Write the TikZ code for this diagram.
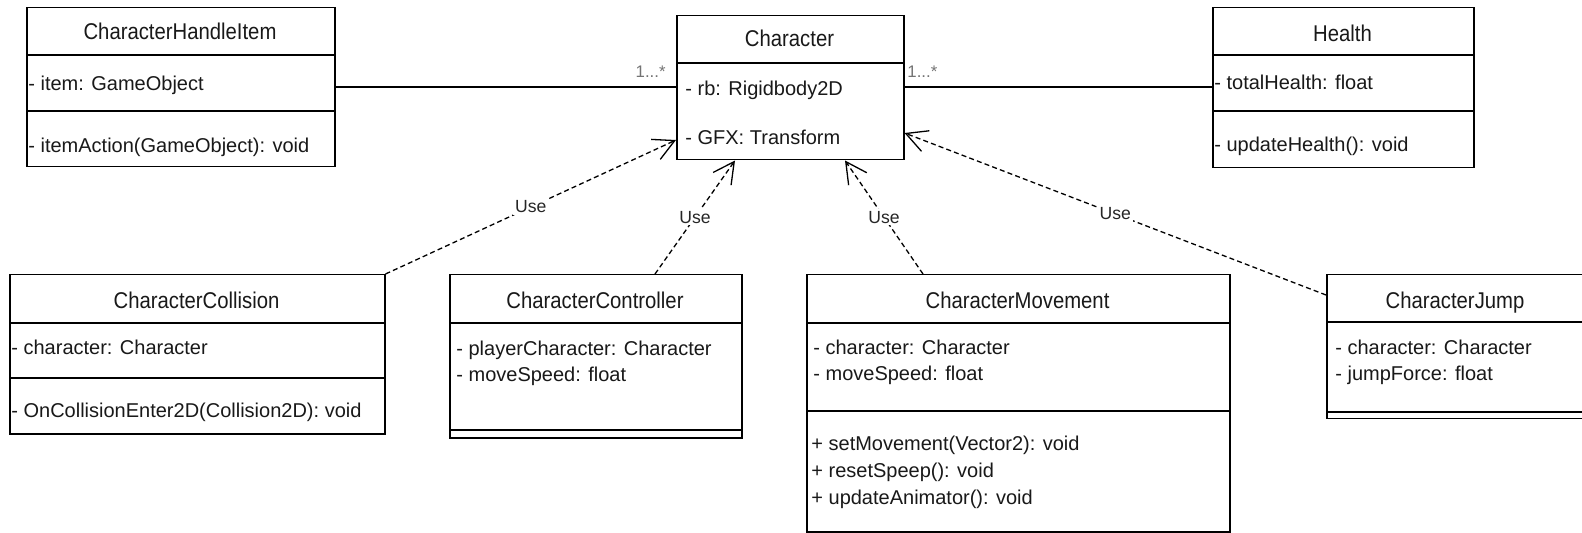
\documentclass[tikz,border=0pt]{standalone}
\usepackage{fontspec}
\setmainfont{Liberation Sans}
\newfontfamily\clstitlefont[FakeStretch=0.89]{Liberation Sans}
\usetikzlibrary{arrows.meta,calc}
\tikzset{
  cls/.style={draw, line width=0.75pt, inner sep=0pt, anchor=north west, fill=white},
  ttl/.style={inner sep=0pt, font=\clstitlefont\fontsize{11.4pt}{13pt}\selectfont, text=black!90, text height=8.2pt, text depth=0pt},
  attr/.style={inner sep=0pt, anchor=west, font=\fontsize{10pt}{12pt}\selectfont, text=black!90, text height=7.2pt, text depth=0pt},
  sepline/.style={line width=0.75pt},
  assoc/.style={line width=0.7pt},
  usedep/.style={line width=0.65pt, dash pattern=on 2.5pt off 1.6pt, -{Straight Barb[length=10.5pt,width=11pt,line width=0.65pt]}},
  uselbl/.style={fill=white, inner sep=1pt, font=\fontsize{8.8pt}{10pt}\selectfont, text=black!85},
  mult/.style={inner sep=0pt, font=\fontsize{8.4pt}{10pt}\selectfont, text=black!55}
}
\begin{document}
\begin{tikzpicture}[x=0.5pt,y=-0.5pt]
\useasboundingbox (0,0) rectangle (1582,533);
\clip (0,0) rectangle (1582,533);

% CharacterHandleItem
\node[cls, minimum width=308*0.5pt, minimum height=159*0.5pt] (chi) at (26,7) {};
\draw[sepline] (chi.west |- 0,55) -- (chi.east |- 0,55);
\draw[sepline] (chi.west |- 0,111) -- (chi.east |- 0,111);
\node[ttl] (chit) at (180,31) {CharacterHandleItem};
\node[attr] (chia) at (28,83) {- item: GameObject};
\node[attr] (chim) at (28,145) {- itemAction(GameObject): void};

% Character
\node[cls, minimum width=227*0.5pt, minimum height=144*0.5pt] (char) at (676,15) {};
\draw[sepline] (char.west |- 0,63) -- (char.east |- 0,63);
\node[ttl] (chart) at (789.5,38) {Character};
\node[attr] (chara) at (685,88) {- rb: Rigidbody2D};
\node[attr] (charb) at (685,137) {- GFX: Transform};

% Health
\node[cls, minimum width=261*0.5pt, minimum height=160*0.5pt] (hl) at (1212,7) {};
\draw[sepline] (hl.west |- 0,55) -- (hl.east |- 0,55);
\draw[sepline] (hl.west |- 0,111) -- (hl.east |- 0,111);
\node[ttl] (hlt) at (1342.5,33) {Health};
\node[attr] (hla) at (1214,82) {- totalHealth: float};
\node[attr] (hlm) at (1214,144) {- updateHealth(): void};

% CharacterCollision
\node[cls, minimum width=375*0.5pt, minimum height=159*0.5pt] (coll) at (9,274) {};
\draw[sepline] (coll.west |- 0,323) -- (coll.east |- 0,323);
\draw[sepline] (coll.west |- 0,378) -- (coll.east |- 0,378);
\node[ttl] (collt) at (196.5,300) {CharacterCollision};
\node[attr] (colla) at (11,347) {- character: Character};
\node[attr] (collm) at (11,410) {- OnCollisionEnter2D(Collision2D): void};

% CharacterController
\node[cls, minimum width=292*0.5pt, minimum height=163*0.5pt] (ctrl) at (449,274) {};
\draw[sepline] (ctrl.west |- 0,323) -- (ctrl.east |- 0,323);
\draw[sepline] (ctrl.west |- 0,430) -- (ctrl.east |- 0,430);
\node[ttl] (ctrlt) at (595,300) {CharacterController};
\node[attr] (ctrla) at (456,348) {- playerCharacter: Character};
\node[attr] (ctrlb) at (456,374) {- moveSpeed: float};

% CharacterMovement
\node[cls, minimum width=423*0.5pt, minimum height=257*0.5pt] (move) at (806,274) {};
\draw[sepline] (move.west |- 0,323) -- (move.east |- 0,323);
\draw[sepline] (move.west |- 0,411) -- (move.east |- 0,411);
\node[ttl] (movet) at (1017.5,300) {CharacterMovement};
\node[attr] (movea) at (813,347) {- character: Character};
\node[attr] (moveb) at (813,373) {- moveSpeed: float};
\node[attr] (movem1) at (811,443) {+ setMovement(Vector2): void};
\node[attr] (movem2) at (811,470) {+ resetSpeep(): void};
\node[attr] (movem3) at (811,497) {+ updateAnimator(): void};

% CharacterJump
\node[cls, minimum width=258*0.5pt, minimum height=144*0.5pt] (jump) at (1326,274) {};
\draw[sepline] (jump.west |- 0,322) -- (jump.east |- 0,322);
\draw[sepline] (jump.west |- 0,412) -- (jump.east |- 0,412);
\node[ttl] (jumpt) at (1455,300) {CharacterJump};
\node[attr] (jumpa) at (1335,347) {- character: Character};
\node[attr] (jumpb) at (1335,373) {- jumpForce: float};

% associations
\draw[assoc] (chi.east |- 0,87) -- (char.west |- 0,87);
\draw[assoc] (char.east |- 0,87) -- (hl.west |- 0,87);
\node[mult, anchor=east] (m1) at (666,72) {1...*};
\node[mult, anchor=west] (m2) at (907,72) {1...*};

% dependencies
\draw[usedep] (coll.north east) -- node[uselbl] (u1) {Use} (char.west |- 0,140);
\draw[usedep] (ctrl.north -| 655,0) -- node[uselbl] (u2) {Use} (char.south -| 735,0);
\draw[usedep] (move.north -| 923,0) -- node[uselbl] (u3) {Use} (char.south -| 845,0);
\draw[usedep] (jump.west |- 0,295) -- node[uselbl] (u4) {Use} (char.east |- 0,133);
\end{tikzpicture}
\end{document}
